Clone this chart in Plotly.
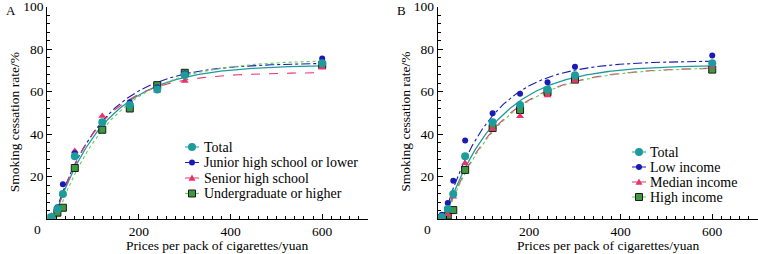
import numpy as np
import plotly.graph_objects as go

# ---------------- data ----------------
prices = [9, 22, 34, 60, 120, 180, 240, 300, 600]

total = [1.0, 4.7, 11.8, 29.5, 45.5, 53.6, 61.0, 67.7, 73.3]
junior_or_lower = [0.8, 5.5, 16.3, 31.0, 45.0, 55.0, 62.0, 68.5, 75.5]
senior_high = [1.5, 4.0, 12.0, 32.0, 48.5, 55.0, 60.3, 65.0, 71.2]
undergrad_or_higher = [0.5, 3.0, 5.3, 24.0, 42.0, 52.0, 63.0, 68.8, 72.5]

low_income = [2.0, 7.5, 18.0, 36.9, 49.8, 58.9, 64.4, 71.7, 76.9]
median_income = [0.5, 2.0, 10.5, 26.2, 42.4, 48.4, 58.1, 65.1, 71.7]
high_income = [0.5, 1.6, 4.2, 23.1, 42.8, 51.3, 59.7, 65.6, 70.3]

# fitted-curve parameters (plateau, rate, onset price)
fit_total = [72.5, 0.0088, 14]
fit_junior = [73.5, 0.0092, 13]
fit_senior = [69.0, 0.0103, 15]
fit_undergrad = [75.0, 0.0081, 19]
fit_low = [74.5, 0.0098, 12]
fit_median = [71.5, 0.0083, 15]
fit_high = [71.5, 0.0082, 16]

x_ticks = [0, 200, 400, 600]
x_ticktext = ["", "200", "400", "600"]
y_ticks = [0, 20, 40, 60, 80, 100]
y_ticktext = ["", "20", "40", "60", "80", "100"]

FONT = "Liberation Serif, Times New Roman, serif"
TEAL = "#1e9c9c"
BLUE = "#1a1ab4"
PINK = "#e8336b"
GREEN_FILL = "#3e9a3e"
GREEN_LINE = "#66cc55"


def curve(p, xmax=600):
    a, k, x0 = p
    xs = np.linspace(x0, xmax, 300)
    return xs, a * (1 - np.exp(-k * (xs - x0)))


fig = go.Figure()

panels = [
    ("x", "y", [
        ("Total", total, fit_total, TEAL, "solid", TEAL, "circle", 8, 1.3),
        ("Junior high school or lower", junior_or_lower, fit_junior, BLUE, "dashdot", BLUE, "circle", 6, 1.1),
        ("Senior high school", senior_high, fit_senior, PINK, "dash", PINK, "triangle-up", 7, 1.1),
        ("Undergraduate or higher", undergrad_or_higher, fit_undergrad, GREEN_LINE, "dot", GREEN_FILL, "square", 7, 1.1),
    ]),
    ("x2", "y2", [
        ("Total", total, fit_total, TEAL, "solid", TEAL, "circle", 8, 1.3),
        ("Low income", low_income, fit_low, BLUE, "dashdot", BLUE, "circle", 6, 1.1),
        ("Median income", median_income, fit_median, PINK, "dash", PINK, "triangle-up", 7, 1.1),
        ("High income", high_income, fit_high, GREEN_LINE, "dot", GREEN_FILL, "square", 7, 1.1),
    ]),
]

for xa, ya, series in panels:
    for name, vals, fit, lcol, dash, mcol, sym, size, lw in series:
        cx, cy = curve(fit)
        fig.add_trace(go.Scatter(x=cx, y=cy, mode="lines", xaxis=xa, yaxis=ya,
                                 line=dict(color=lcol, width=lw, dash=dash),
                                 showlegend=False, hoverinfo="skip"))
    for name, vals, fit, lcol, dash, mcol, sym, size, lw in reversed(series):
        border = dict(color="#1a1a1a", width=1) if sym == "square" else dict(width=0)
        fig.add_trace(go.Scatter(x=prices, y=vals, mode="markers", name=name,
                                 xaxis=xa, yaxis=ya, showlegend=False,
                                 marker=dict(color=mcol, symbol=sym, size=size, line=border)))

W, H = 758, 254
x0A, x0B, xw = 47.3, 437.7, 320.7
y0, ytop = 219.0, 6.5

axis_common = dict(showline=True, linecolor="black", linewidth=1, ticks="inside",
                   ticklen=5, tickwidth=1, tickcolor="black", showgrid=False,
                   zeroline=False, mirror=False, ticklabeloverflow="allow",
                   automargin=False,
                   tickfont=dict(family=FONT, size=13.5, color="black"))

xcommon = dict(axis_common, range=[0, 700], tickvals=x_ticks, ticktext=x_ticktext,
               minor=dict(ticks="inside", dtick=20, ticklen=3, tickcolor="black", tickwidth=1))
ycommon = dict(axis_common, range=[0, 100], tickvals=y_ticks, ticktext=y_ticktext,
               minor=dict(ticks="inside", dtick=4, ticklen=3, tickcolor="black", tickwidth=1))

ydom = [(H - y0) / H, (H - ytop) / H]

fig.update_layout(
    width=W, height=H,
    margin=dict(l=0, r=0, t=0, b=0, pad=0),
    paper_bgcolor="white", plot_bgcolor="white",
    font=dict(family=FONT, color="black"),
    xaxis=dict(xcommon, domain=[x0A / W, (x0A + xw) / W], anchor="y"),
    yaxis=dict(ycommon, domain=ydom, anchor="x"),
    xaxis2=dict(xcommon, domain=[x0B / W, min(1.0, (x0B + xw) / W)], anchor="y2"),
    yaxis2=dict(ycommon, domain=ydom, anchor="x2"),
    showlegend=False,
)


def px(x):
    return x / W


def py(y):
    return 1 - y / H


ann = []
shapes = []
for x0p, lab in [(x0A, "A"), (x0B, "B")]:
    ann.append(dict(x=px(x0p - 10), y=py(229), xref="paper", yref="paper",
                    text="0", showarrow=False, xanchor="center", yanchor="middle",
                    font=dict(family=FONT, size=13.5)))
    ann.append(dict(x=px(x0p + 170), y=py(245), xref="paper", yref="paper",
                    text="Prices per pack of cigarettes/yuan", showarrow=False,
                    xanchor="center", yanchor="middle", font=dict(family=FONT, size=13.5)))
    ann.append(dict(x=px(x0p - 33), y=py(122), xref="paper", yref="paper",
                    text="Smoking cessation rate/%", showarrow=False, textangle=-90,
                    xanchor="center", yanchor="middle", font=dict(family=FONT, size=13.5)))
    ann.append(dict(x=px(x0p - 43), y=py(10), xref="paper", yref="paper",
                    text=lab, showarrow=False, xanchor="left", yanchor="middle",
                    font=dict(family=FONT, size=13)))

# custom compact legends (keys are decorative, not data)
legend_specs = [
    (192, 202, [147, 162.5, 178, 193.5], panels[0][2]),
    (639, 648, [152, 167, 182, 197], panels[1][2]),
]
for mx, tx, rows, series in legend_specs:
    for (name, vals, fit, lcol, dash, mcol, sym, size, lw), ry in zip(series, rows):
        shapes.append(dict(type="line", xref="paper", yref="paper",
                           x0=px(mx - 7), x1=px(mx + 7), y0=py(ry), y1=py(ry),
                           line=dict(color=lcol, width=1)))
        r = size / 2
        if sym == "circle":
            shapes.append(dict(type="circle", xref="paper", yref="paper",
                               x0=px(mx - r), x1=px(mx + r), y0=py(ry + r), y1=py(ry - r),
                               fillcolor=mcol, line=dict(width=0)))
        elif sym == "square":
            shapes.append(dict(type="rect", xref="paper", yref="paper",
                               x0=px(mx - r), x1=px(mx + r), y0=py(ry + r), y1=py(ry - r),
                               fillcolor=mcol, line=dict(color="#1a1a1a", width=1)))
        else:
            path = "M {} {} L {} {} L {} {} Z".format(px(mx - r), py(ry + r * 0.8),
                                                      px(mx + r), py(ry + r * 0.8),
                                                      px(mx), py(ry - r))
            shapes.append(dict(type="path", xref="paper", yref="paper", path=path,
                               fillcolor=mcol, line=dict(width=0)))
        ann.append(dict(x=px(tx), y=py(ry), xref="paper", yref="paper", text=name,
                        showarrow=False, xanchor="left", yanchor="middle",
                        font=dict(family=FONT, size=14)))

fig.update_layout(annotations=ann, shapes=shapes)

fig.write_html("out.html", config={"displayModeBar": False},
               post_script="document.body.style.margin='0';document.body.style.padding='0';")
